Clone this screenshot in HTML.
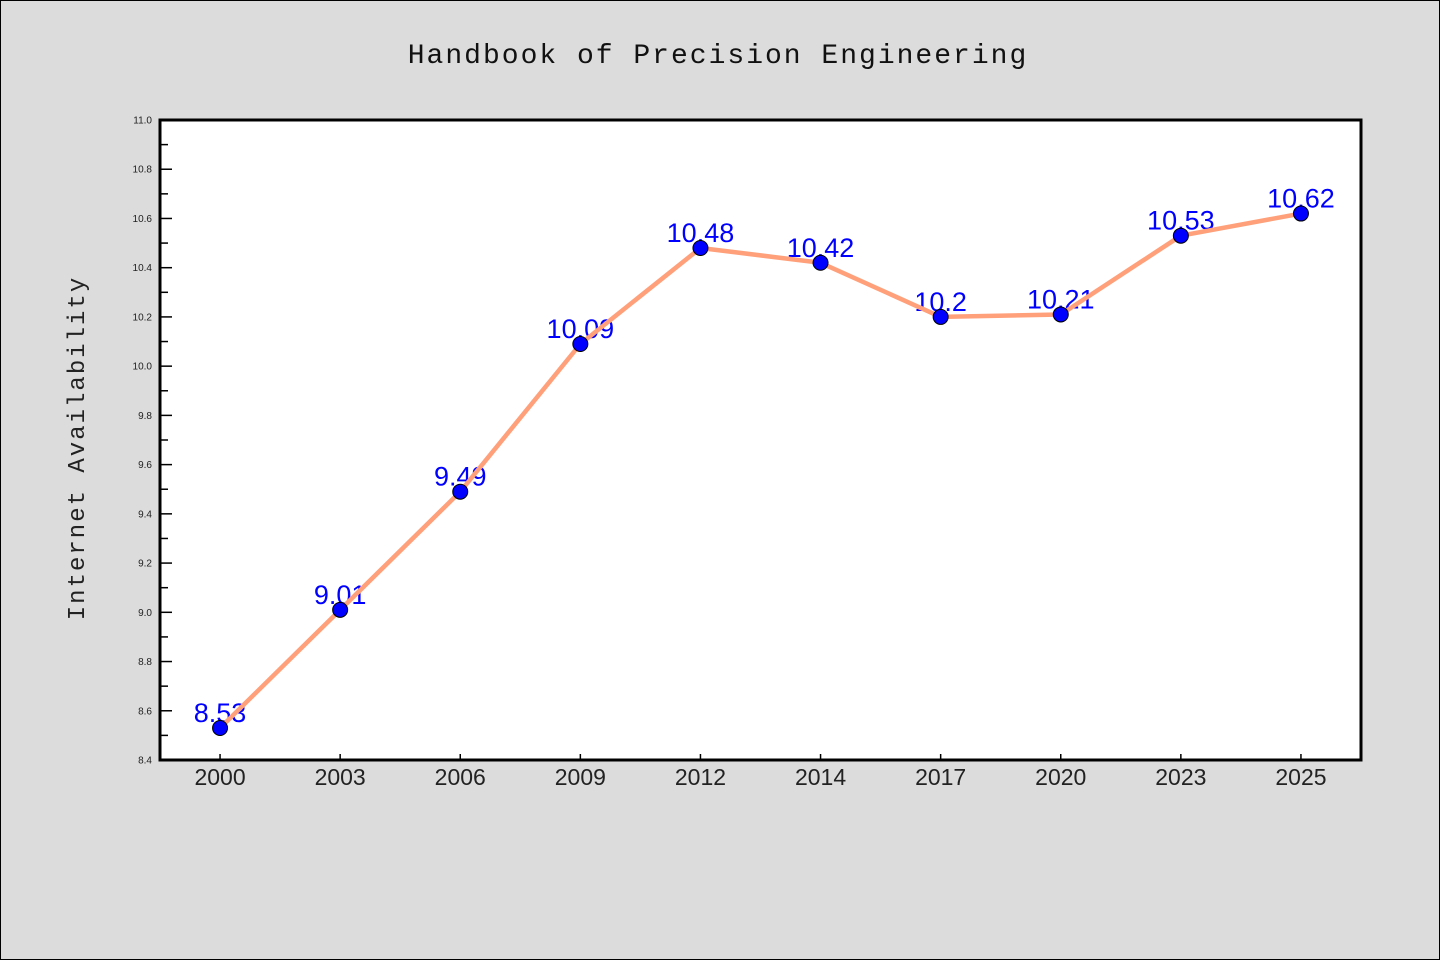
<!DOCTYPE html>
<html><head><meta charset="utf-8"><style>
html,body{margin:0;padding:0;background:#dcdcdc;}
svg{display:block;font-family:"Liberation Sans","WenQuanYi Zen Hei",sans-serif;}
</style></head><body>
<svg width="1440" height="960" viewBox="0 0 1440 960">
<rect x="0.5" y="0.5" width="1439" height="959" fill="#dcdcdc" stroke="#000" stroke-width="1"/>
<text x="718" y="63" text-anchor="middle" font-size="28" letter-spacing="2" fill="#111" style="font-family:'WenQuanYi Zen Hei','Liberation Mono',monospace">Handbook of Precision Engineering</text>
<rect x="160" y="120" width="1201" height="640" fill="#fff"/>
<g id="grid"></g>
<g id="labels"></g>
<path id="line" fill="none" stroke="#ffa07a" stroke-width="4.5" stroke-linejoin="round"/>
<g id="points"></g>
<rect x="160" y="120" width="1201" height="640" fill="none" stroke="#000" stroke-width="3"/>
<text transform="translate(84,448) rotate(-90)" text-anchor="middle" font-size="24" letter-spacing="2" fill="#222" style="font-family:'WenQuanYi Zen Hei','Liberation Mono',monospace">Internet Availability</text>
</svg>
<script>
const categories=["2000","2003","2006","2009","2012","2014","2017","2020","2023","2025"];
const values=[8.53,9.01,9.49,10.09,10.48,10.42,10.2,10.21,10.53,10.62];
const valueLabels=["8.53","9.01","9.49","10.09","10.48","10.42","10.2","10.21","10.53","10.62"];
const yTicks=[8.4,8.6,8.8,9.0,9.2,9.4,9.6,9.8,10.0,10.2,10.4,10.6,10.8,11.0];
const yMinorTicks=[8.5,8.7,8.9,9.1,9.3,9.5,9.7,9.9,10.1,10.3,10.5,10.7,10.9];
const NS="http://www.w3.org/2000/svg";
const L=160,R=1361,T=120,B=760,yMin=8.4,yMax=11.0;
const bw=(R-L)/categories.length;
function x(i){return L+bw*(i+0.5);}
function y(v){return B-(v-yMin)/(yMax-yMin)*(B-T);}
function mk(tag,attrs,parent){const e=document.createElementNS(NS,tag);for(const k in attrs)e.setAttribute(k,attrs[k]);parent.appendChild(e);return e;}
const grid=document.getElementById('grid');
yTicks.forEach(v=>{
  const t=mk('line',{x1:L,x2:L+12,y1:y(v),y2:y(v),stroke:'#000','stroke-width':1.5},grid);
  
  
  const tx=mk('text',{x:L-8,y:y(v)+3.5,'text-anchor':'end','font-size':10,fill:'#222'},grid);
  tx.textContent=v.toFixed(1);
  
  
});
yMinorTicks.forEach(v=>{
  const t=mk('line',{x1:L,x2:L+8,y1:y(v),y2:y(v),stroke:'#000','stroke-width':1.5},grid);
  
  
});
categories.forEach((c,i)=>{
  const t=mk('line',{x1:x(i),x2:x(i),y1:B,y2:B-6,stroke:'#000','stroke-width':1.5},grid);
  
  
  const tx=mk('text',{x:x(i),y:B+25,'text-anchor':'middle','font-size':23,fill:'#222'},grid);
  tx.textContent=c;
  
  
});
const labels=document.getElementById('labels');
values.forEach((v,i)=>{
  const tx=mk('text',{x:x(i),y:y(v)-6,'text-anchor':'middle','font-size':27,fill:'#0000ff'},labels);
  tx.textContent=valueLabels[i];
  
  
});
document.getElementById('line').setAttribute('d',values.map((v,i)=>(i?'L':'M')+x(i)+','+y(v)).join(' '));
const pts=document.getElementById('points');
values.forEach((v,i)=>{
  const c=mk('circle',{cx:x(i),cy:y(v),r:7.5,fill:'#0000ff',stroke:'#000','stroke-width':1},pts);
  
  
});
</script>
</body></html>
